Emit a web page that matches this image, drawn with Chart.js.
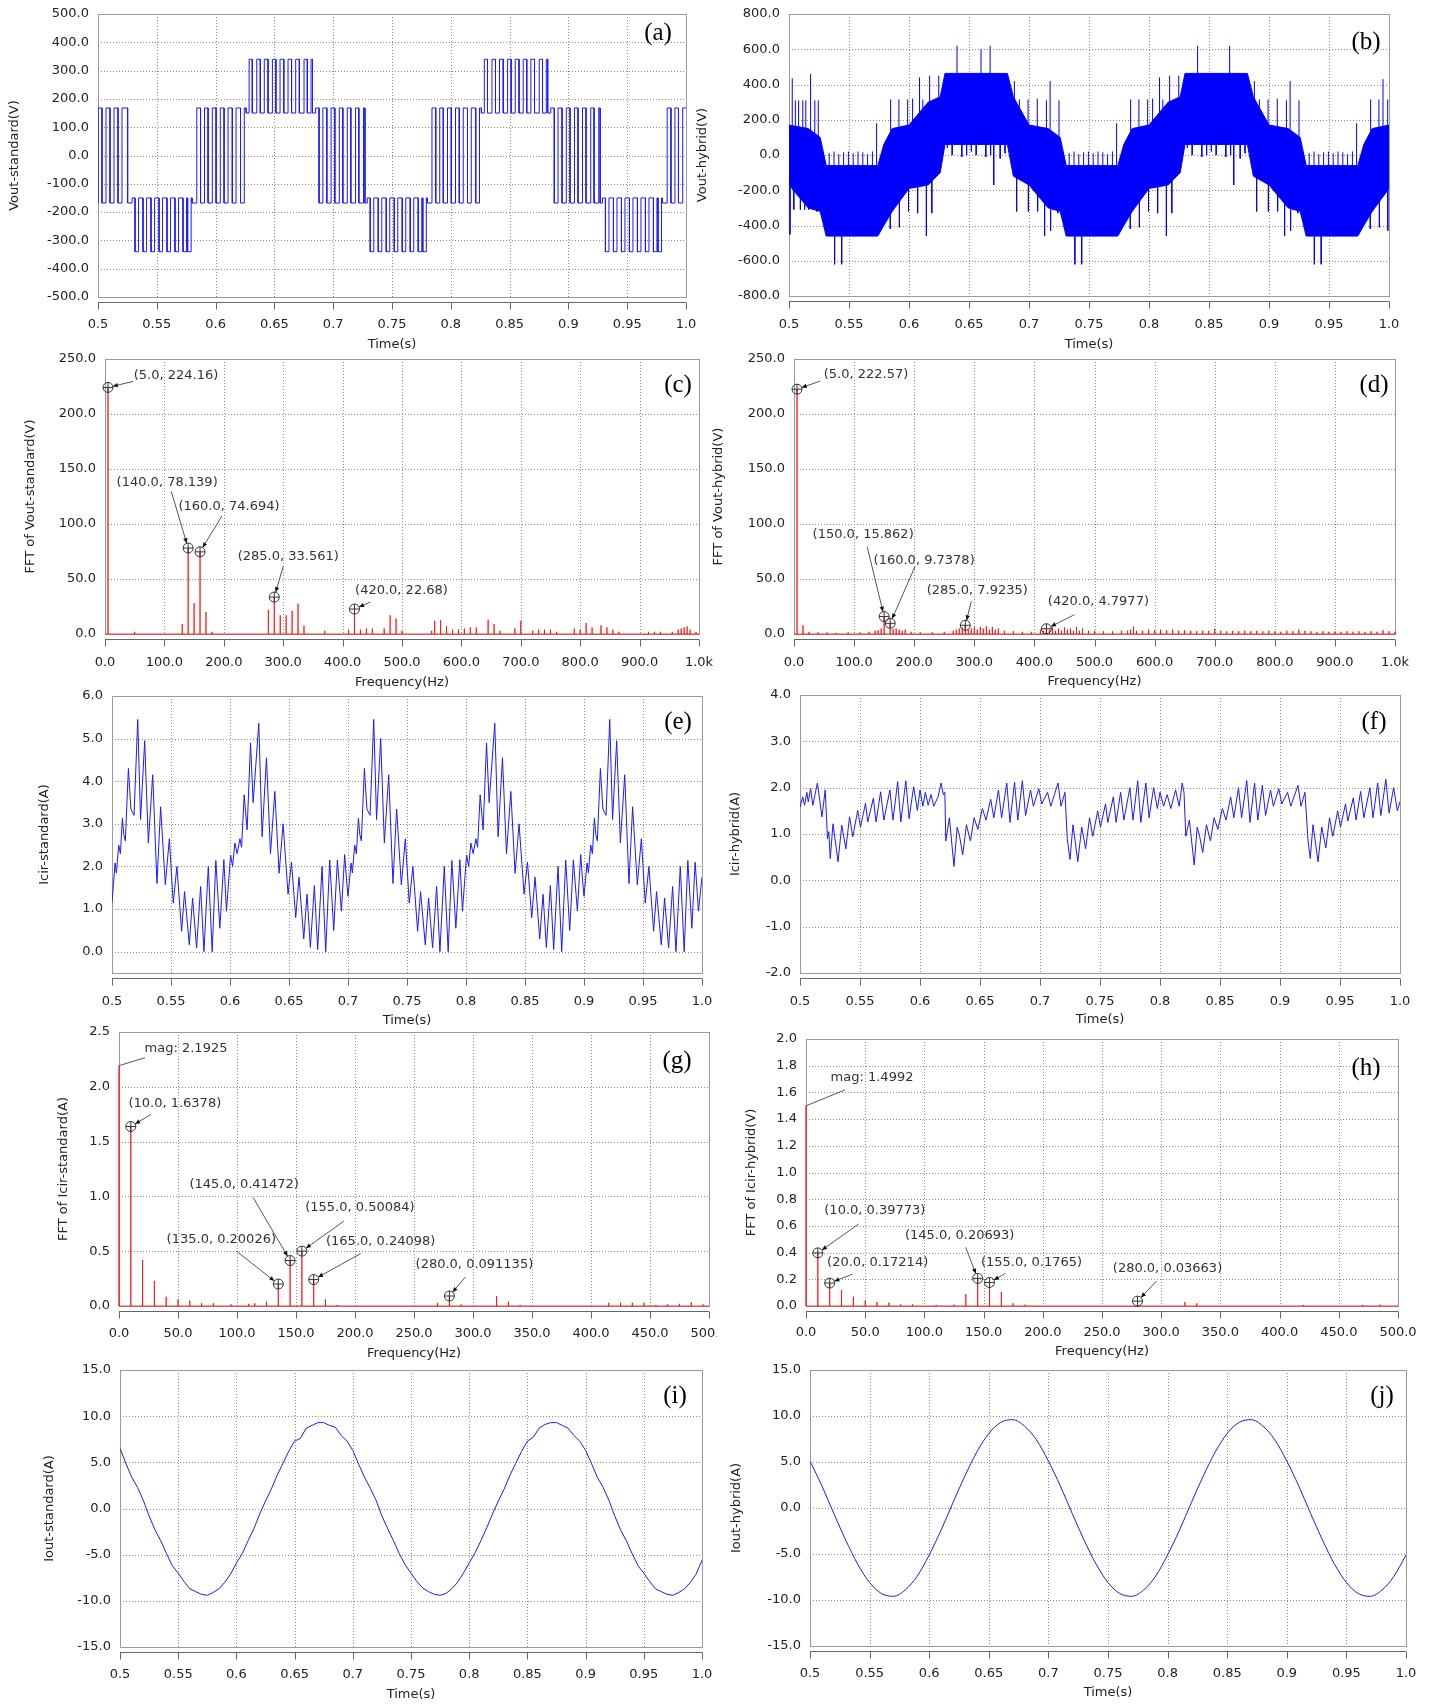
<!DOCTYPE html>
<html>
<head>
<meta charset="utf-8">
<title>Vout / Icir / Iout, standard vs hybrid</title>
<script src="https://cdn.jsdelivr.net/npm/chart.js@4.4.1/dist/chart.umd.min.js"></script>
<style>
  html, body { margin: 0; padding: 0; background: #ffffff; }
  body { position: relative; width: 1435px; height: 1705px; overflow: hidden; }
  canvas { position: absolute; }
</style>
</head>
<body>
<script>
// ---------------- data ----------------

// (a) Vout-standard: switching sections (start time, low/high level, edge times)
const aStart = [0.5000, 0.5290, 0.5800, 0.6260, 0.6850, 0.7290, 0.7800, 0.8260, 0.8850, 0.9290, 0.9800];
const aLow = [-168, -340, -168, 150, -168, -340, -168, 150, -168, -340, -168];
const aHigh = [168, -150, 168, 340, 168, -150, 168, 340, 168, -150, 168];
const aStartsHigh = [false, true, false, false, true, true, false, false, true, true, false];
const aEdges = [
  [0.5002, 0.5034, 0.5068, 0.5102, 0.5136, 0.5170, 0.5204, 0.5252],
  [0.5315, 0.5345, 0.5383, 0.5413, 0.5451, 0.5481, 0.5519, 0.5549, 0.5587, 0.5617, 0.5655, 0.5685, 0.5723, 0.5753, 0.5762, 0.5792],
  [0.5840, 0.5872, 0.5906, 0.5936, 0.5972, 0.6004, 0.6040, 0.6072, 0.6106, 0.6142, 0.6174, 0.6212, 0.6244],
  [0.6285, 0.6312, 0.6350, 0.6380, 0.6414, 0.6446, 0.6483, 0.6513, 0.6548, 0.6580, 0.6616, 0.6646, 0.6681, 0.6712, 0.6752, 0.6780, 0.6812, 0.6824],
  [0.6880, 0.6912, 0.6946, 0.6982, 0.7014, 0.7052, 0.7082, 0.7120, 0.7150, 0.7190, 0.7218, 0.7258, 0.7270],
  [0.7315, 0.7345, 0.7383, 0.7413, 0.7451, 0.7481, 0.7519, 0.7549, 0.7587, 0.7617, 0.7655, 0.7685, 0.7723, 0.7753, 0.7762, 0.7792],
  [0.7840, 0.7872, 0.7906, 0.7936, 0.7972, 0.8004, 0.8040, 0.8072, 0.8106, 0.8142, 0.8174, 0.8212, 0.8244],
  [0.8285, 0.8312, 0.8350, 0.8380, 0.8414, 0.8446, 0.8483, 0.8513, 0.8548, 0.8580, 0.8616, 0.8646, 0.8681, 0.8712, 0.8752, 0.8780, 0.8812, 0.8824],
  [0.8880, 0.8912, 0.8946, 0.8982, 0.9014, 0.9052, 0.9082, 0.9120, 0.9150, 0.9190, 0.9218, 0.9258, 0.9270],
  [0.9315, 0.9345, 0.9383, 0.9413, 0.9451, 0.9481, 0.9519, 0.9549, 0.9587, 0.9617, 0.9655, 0.9685, 0.9723, 0.9753, 0.9762, 0.9792],
  [0.9840, 0.9872, 0.9906, 0.9936, 0.9972]
];

// (b) Vout-hybrid: solid band (upper / lower edge) and single spikes [t, from, to]
const bT = [0.500, 0.516, 0.526, 0.531, 0.574, 0.579, 0.586, 0.600, 0.616, 0.626, 0.630, 0.682, 0.687, 0.700, 0.716, 0.726, 0.731, 0.774, 0.779, 0.786, 0.800, 0.816, 0.826, 0.830, 0.882, 0.887, 0.900, 0.916, 0.926, 0.931, 0.974, 0.979, 0.986, 1.000];
const bUp = [170, 150, 100, -60, -60, 60, 150, 170, 300, 330, 463, 463, 330, 170, 150, 100, -60, -60, 60, 150, 170, 300, 330, 463, 463, 330, 170, 150, 100, -60, -60, 60, 150, 170];
const bLo = [-170, -300, -320, -460, -460, -400, -320, -190, -170, -100, 60, 60, -120, -170, -300, -320, -460, -460, -400, -320, -190, -170, -100, 60, 60, -120, -170, -300, -320, -460, -460, -400, -320, -190];
const bSpikes = [
  [0.5008, -100, -450], [0.5027, 100, 435], [0.5040, -100, -310], [0.5053, 100, 310], [0.5080, 100, 310], [0.5095, -100, -310], [0.5115, 100, 310], [0.5130, -100, -310], [0.5140, 100, 310], [0.5165, -100, -310], [0.5180, 100, 460], [0.5196, -100, -310], [0.5215, 100, 310], [0.5230, -100, -320], [0.5244, 100, 310],
  [0.5335, -60, 10], [0.5375, -60, 20], [0.5380, -400, -620], [0.5415, -60, 5], [0.5439, -400, -620], [0.5455, -60, 15], [0.5495, -60, 20], [0.5535, -60, 10], [0.5575, -60, 20], [0.5615, -60, 15], [0.5655, -60, 5], [0.5695, -60, 20], [0.5730, -60, 180],
  [0.5750, -100, -410], [0.5844, -100, -420], [0.5847, 100, 315], [0.5916, 100, 315], [0.5920, -100, -410], [0.5989, 100, 315], [0.5996, -100, -320], [0.6030, 100, 320], [0.6072, -100, -330], [0.6088, 100, 440], [0.6115, 100, 315], [0.6145, -100, -460], [0.6172, 100, 450], [0.6190, -100, -330], [0.6210, 100, 315], [0.6248, 100, 450],
  [0.6320, 60, 40], [0.6360, 60, 0], [0.6400, 400, 620], [0.6440, 60, -10], [0.6480, 60, 0], [0.6520, 60, 20], [0.6560, 60, 0], [0.6600, 400, 600], [0.6640, 60, -10], [0.6676, 400, 620], [0.6680, 60, 0], [0.6706, 60, -170], [0.6760, 60, -20], [0.6800, 60, 10],
  [0.6878, 100, 420], [0.6897, -100, -320], [0.6920, 100, 315], [0.6992, 100, 315], [0.6995, -100, -320], [0.7069, 100, 320], [0.7072, -100, -320], [0.7130, -100, -460], [0.7145, 100, 310], [0.7176, 100, 420], [0.7180, -100, -430], [0.7240, -100, -330], [0.7250, 100, 310],
  [0.7335, -60, 10], [0.7375, -60, 20], [0.7382, -400, -620], [0.7415, -60, 5], [0.7439, -400, -620], [0.7455, -60, 15], [0.7495, -60, 20], [0.7535, -60, 10], [0.7575, -60, 20], [0.7615, -60, 15], [0.7655, -60, 5], [0.7695, -60, 20], [0.7730, -60, 180],
  [0.7750, -100, -410], [0.7844, -100, -420], [0.7847, 100, 315], [0.7916, 100, 315], [0.7920, -100, -410], [0.7989, 100, 315], [0.7996, -100, -320], [0.8030, 100, 320], [0.8072, -100, -330], [0.8088, 100, 440], [0.8115, 100, 315], [0.8145, -100, -460], [0.8172, 100, 450], [0.8190, -100, -330], [0.8210, 100, 315], [0.8248, 100, 450],
  [0.8320, 60, 40], [0.8360, 60, 0], [0.8405, 400, 620], [0.8440, 60, -10], [0.8480, 60, 0], [0.8520, 60, 20], [0.8560, 60, 0], [0.8640, 60, -10], [0.8672, 400, 620], [0.8680, 60, 0], [0.8706, 60, -170], [0.8760, 60, -20], [0.8800, 60, 10],
  [0.8878, 100, 420], [0.8897, -100, -320], [0.8920, 100, 315], [0.8992, 100, 315], [0.8995, -100, -320], [0.9069, 100, 320], [0.9072, -100, -320], [0.9130, -100, -460], [0.9145, 100, 310], [0.9176, 100, 420], [0.9180, -100, -430], [0.9240, -100, -330], [0.9250, 100, 310],
  [0.9335, -60, 10], [0.9375, -60, 20], [0.9378, -400, -620], [0.9415, -60, 5], [0.9435, -400, -620], [0.9455, -60, 15], [0.9495, -60, 20], [0.9535, -60, 10], [0.9575, -60, 20], [0.9615, -60, 15], [0.9655, -60, 5], [0.9695, -60, 20], [0.9730, -60, 180],
  [0.9750, -100, -410], [0.9844, -100, -420], [0.9847, 100, 315], [0.9916, 100, 315], [0.9920, -100, -410], [0.9950, 100, 430], [0.9989, 100, 315], [0.9990, -100, -430]
];

// (c) FFT of Vout-standard: [frequency Hz, magnitude V], other bins read as 0
const cSpec = [[5, 224.16], [50, 2], [130, 9], [140, 78.139], [150, 28], [160, 74.694], [170, 20], [180, 2],
  [275, 22], [285, 33.561], [295, 17], [305, 17], [315, 21], [325, 27.5], [335, 7.5],
  [370, 3], [410, 4], [420, 22.68], [430, 4], [440, 5], [450, 5], [470, 5], [480, 17], [490, 14], [500, 3],
  [550, 3], [555, 12], [565, 12.5], [575, 7], [585, 4], [595, 4], [605, 5], [615, 6], [625, 6],
  [645, 13], [655, 9], [665, 3], [690, 5], [700, 12], [720, 3], [730, 4], [740, 4], [750, 4], [760, 2],
  [790, 5], [800, 4], [810, 10], [820, 6], [835, 8], [845, 6], [855, 4], [865, 2],
  [915, 2], [925, 2], [935, 2], [955, 2], [965, 4], [970, 5], [975, 6], [980, 7], [985, 4], [995, 2]];
const cNotes = [[5, 224.16, '(5.0, 224.16)'], [140, 78.139, '(140.0, 78.139)'], [160, 74.694, '(160.0, 74.694)'], [285, 33.561, '(285.0, 33.561)'], [420, 22.68, '(420.0, 22.68)']];

// (d) FFT of Vout-hybrid
const dSpec = [[5, 222.57], [15, 8], [25, 2], [40, 1.5], [55, 1.5], [70, 1], [90, 1.5], [110, 1.5], [125, 2], [135, 3], [140, 3.5], [145, 5],
  [150, 15.862], [160, 9.7378], [165, 4.5], [170, 5], [175, 4], [180, 3], [185, 4], [195, 2], [210, 1.5], [230, 1.5], [250, 2],
  [265, 3], [270, 4], [275, 5], [280, 6], [285, 7.9235], [290, 4], [295, 5], [300, 6], [305, 4], [310, 6.5], [315, 5], [320, 7],
  [325, 4], [330, 6.5], [335, 4], [340, 5], [350, 3], [365, 2.5], [380, 2], [395, 2], [410, 4], [415, 3], [420, 4.7977], [425, 4],
  [430, 6], [435, 3], [440, 5], [445, 3], [450, 6], [455, 4], [460, 5], [465, 3], [470, 6.5], [475, 3], [480, 5], [490, 3], [500, 3],
  [515, 2.5], [530, 2.5], [545, 3], [555, 3], [560, 4], [565, 6.7], [570, 3], [580, 3], [590, 4], [600, 3.5], [610, 4], [620, 3.5],
  [630, 4], [640, 3], [650, 3.5], [660, 3], [670, 2.5], [680, 3], [690, 3], [700, 5], [710, 3], [720, 2.5], [730, 3], [740, 2.5],
  [750, 3], [760, 2.5], [770, 3], [780, 2.5], [790, 3], [800, 2.5], [810, 2], [820, 3], [830, 2.5], [840, 4], [850, 3], [860, 2.5],
  [870, 2], [880, 2.5], [890, 2], [900, 2.5], [910, 2], [920, 2.5], [930, 2], [940, 2.5], [950, 2], [960, 2.5], [970, 2], [980, 3.5], [990, 2.5], [1000, 2]];
const dNotes = [[5, 222.57, '(5.0, 222.57)'], [150, 15.862, '(150.0, 15.862)'], [160, 9.7378, '(160.0, 9.7378)'], [285, 7.9235, '(285.0, 7.9235)'], [420, 4.7977, '(420.0, 4.7977)']];

// (e) Icir-standard: ripple extrema [t, A]
const eWave = [
  [0.5000, 1.15], [0.5026, 2.08], [0.5037, 1.85], [0.5057, 2.50], [0.5071, 2.30], [0.5088, 3.13], [0.5100, 2.75], [0.5113, 2.60], [0.5139, 4.30], [0.5160, 3.35], [0.5187, 3.20], [0.5218, 5.45], [0.5242, 3.10], [0.5277, 4.95], [0.5308, 2.55], [0.5345, 4.15], [0.5381, 1.60], [0.5412, 3.40], [0.5452, 1.57], [0.5486, 2.65], [0.5519, 1.14], [0.5550, 2.00], [0.5590, 0.48], [0.5615, 1.41], [0.5655, 0.16], [0.5683, 1.26], [0.5717, 0.09], [0.5751, 1.53], [0.5779, 0.00], [0.5816, 2.00], [0.5849, 0.00], [0.5880, 2.14], [0.5914, 0.55], [0.5948, 2.16], [0.5970, 0.95], [0.6005, 2.27],
  [0.6022, 2.00], [0.6041, 2.55], [0.6061, 2.30], [0.6084, 2.65], [0.6098, 2.45], [0.6120, 3.68], [0.6145, 2.86], [0.6174, 4.90], [0.6196, 3.50], [0.6244, 5.36], [0.6272, 2.70], [0.6309, 4.55], [0.6343, 2.30], [0.6380, 3.76], [0.6416, 1.84], [0.6450, 3.00], [0.6492, 1.35], [0.6521, 2.10], [0.6557, 0.80], [0.6585, 1.75], [0.6625, 0.30], [0.6653, 1.35], [0.6681, 0.10], [0.6715, 1.55], [0.6743, 0.05], [0.6780, 2.00], [0.6811, 0.00], [0.6845, 2.15], [0.6879, 0.50], [0.6910, 2.15], [0.6944, 0.95], [0.6972, 2.28], [0.6990, 1.60],
  [0.7000, 1.30], [0.7026, 2.08], [0.7037, 1.85], [0.7057, 2.50], [0.7071, 2.30], [0.7088, 3.13], [0.7100, 2.75], [0.7113, 2.60], [0.7139, 4.30], [0.7160, 3.35], [0.7187, 3.20], [0.7218, 5.45], [0.7242, 3.10], [0.7277, 5.00], [0.7308, 2.55], [0.7345, 4.15], [0.7381, 1.60], [0.7412, 3.35], [0.7452, 1.57], [0.7486, 2.65], [0.7519, 1.14], [0.7550, 2.00], [0.7590, 0.48], [0.7615, 1.41], [0.7655, 0.16], [0.7683, 1.26], [0.7717, 0.09], [0.7751, 1.53], [0.7779, 0.00], [0.7816, 2.00], [0.7849, 0.00], [0.7880, 2.14], [0.7914, 0.55], [0.7948, 2.16], [0.7970, 0.95], [0.8005, 2.27],
  [0.8022, 2.00], [0.8041, 2.55], [0.8061, 2.30], [0.8084, 2.65], [0.8098, 2.45], [0.8120, 3.68], [0.8145, 2.86], [0.8174, 4.90], [0.8196, 3.50], [0.8244, 5.36], [0.8272, 2.70], [0.8309, 4.55], [0.8343, 2.30], [0.8380, 3.76], [0.8416, 1.84], [0.8450, 3.00], [0.8492, 1.35], [0.8521, 2.10], [0.8557, 0.80], [0.8585, 1.75], [0.8625, 0.30], [0.8653, 1.35], [0.8681, 0.10], [0.8715, 1.55], [0.8743, 0.05], [0.8780, 2.00], [0.8811, 0.00], [0.8845, 2.15], [0.8879, 0.50], [0.8910, 2.15], [0.8944, 0.95], [0.8972, 2.28], [0.8990, 1.60],
  [0.9000, 1.30], [0.9026, 2.08], [0.9037, 1.85], [0.9057, 2.50], [0.9071, 2.30], [0.9088, 3.13], [0.9100, 2.75], [0.9113, 2.60], [0.9139, 4.30], [0.9160, 3.35], [0.9187, 3.20], [0.9218, 5.45], [0.9242, 3.10], [0.9277, 4.95], [0.9308, 2.55], [0.9345, 4.15], [0.9381, 1.60], [0.9412, 3.40], [0.9452, 1.57], [0.9486, 2.65], [0.9519, 1.14], [0.9550, 2.00], [0.9590, 0.48], [0.9615, 1.41], [0.9655, 0.16], [0.9683, 1.26], [0.9717, 0.09], [0.9751, 1.53], [0.9779, 0.00], [0.9816, 2.00], [0.9849, 0.00], [0.9880, 2.14], [0.9914, 0.55], [0.9942, 2.10], [0.9970, 0.95], [1.0000, 1.75]
];

// (f) Icir-hybrid: ripple extrema [t, A]
const fWave = [
  [0.5000, 1.58], [0.5023, 1.80], [0.5038, 1.62], [0.5057, 1.90], [0.5069, 1.69], [0.5088, 1.98], [0.5107, 1.62], [0.5145, 2.10], [0.5183, 1.37], [0.5210, 1.95], [0.5229, 0.90], [0.5240, 1.05], [0.5252, 0.47], [0.5275, 1.22], [0.5317, 0.40], [0.5348, 1.19], [0.5382, 0.68], [0.5413, 1.37], [0.5440, 0.94], [0.5481, 1.51], [0.5504, 1.15], [0.5546, 1.66], [0.5565, 1.26], [0.5611, 1.77], [0.5634, 1.26], [0.5672, 1.91], [0.5699, 1.30], [0.5749, 1.95], [0.5775, 1.30], [0.5814, 2.13], [0.5840, 1.26], [0.5882, 2.15], [0.5909, 1.33], [0.5947, 2.02], [0.5978, 1.51], [0.6000, 1.95], [0.6024, 1.60], [0.6045, 1.90], [0.6068, 1.62], [0.6092, 1.85], [0.6115, 1.60], [0.6150, 1.80], [0.6176, 2.10], [0.6195, 1.85], [0.6207, 1.90],
  [0.6215, 0.85], [0.6245, 1.35], [0.6283, 0.30], [0.6310, 1.15], [0.6330, 0.95], [0.6356, 0.55], [0.6387, 1.20], [0.6420, 0.85], [0.6451, 1.35], [0.6482, 1.10], [0.6520, 1.55], [0.6550, 1.30], [0.6589, 1.75], [0.6615, 1.35], [0.6654, 1.95], [0.6680, 1.35], [0.6723, 2.10], [0.6750, 1.25], [0.6788, 2.12], [0.6815, 1.30], [0.6853, 2.15], [0.6880, 1.40], [0.6921, 1.95], [0.6945, 1.60], [0.6990, 1.98], [0.7015, 1.65], [0.7063, 1.90], [0.7090, 1.60], [0.7150, 2.10], [0.7175, 1.60], [0.7208, 1.90],
  [0.7227, 0.90], [0.7250, 0.45], [0.7275, 1.20], [0.7315, 0.40], [0.7348, 1.15], [0.7380, 0.68], [0.7413, 1.35], [0.7440, 0.95], [0.7481, 1.50], [0.7504, 1.15], [0.7546, 1.65], [0.7565, 1.25], [0.7611, 1.80], [0.7634, 1.25], [0.7672, 1.90], [0.7699, 1.30], [0.7749, 2.00], [0.7775, 1.30], [0.7814, 2.15], [0.7840, 1.25], [0.7882, 2.10], [0.7909, 1.35], [0.7947, 2.00], [0.7978, 1.55], [0.8000, 1.90], [0.8030, 1.60], [0.8060, 1.85], [0.8090, 1.55], [0.8130, 1.95], [0.8160, 1.60], [0.8185, 2.10], [0.8200, 1.90],
  [0.8215, 0.95], [0.8245, 1.30], [0.8285, 0.33], [0.8310, 1.15], [0.8330, 0.95], [0.8356, 0.60], [0.8387, 1.20], [0.8420, 0.85], [0.8451, 1.35], [0.8482, 1.10], [0.8520, 1.55], [0.8550, 1.30], [0.8589, 1.80], [0.8615, 1.35], [0.8654, 2.00], [0.8680, 1.35], [0.8723, 2.15], [0.8750, 1.25], [0.8788, 2.10], [0.8815, 1.30], [0.8853, 2.05], [0.8880, 1.40], [0.8921, 1.95], [0.8945, 1.60], [0.8990, 1.98], [0.9015, 1.65], [0.9063, 1.90], [0.9090, 1.60], [0.9150, 2.05], [0.9175, 1.60], [0.9208, 1.90],
  [0.9232, 0.90], [0.9252, 0.47], [0.9275, 1.20], [0.9317, 0.40], [0.9348, 1.15], [0.9382, 0.70], [0.9413, 1.35], [0.9440, 0.95], [0.9481, 1.50], [0.9504, 1.15], [0.9546, 1.65], [0.9565, 1.28], [0.9611, 1.78], [0.9634, 1.30], [0.9672, 1.92], [0.9699, 1.35], [0.9749, 2.00], [0.9775, 1.35], [0.9814, 2.10], [0.9840, 1.40], [0.9882, 2.18], [0.9909, 1.45], [0.9947, 2.00], [0.9978, 1.50], [1.0000, 1.70]
];

// (g) FFT of Icir-standard
const gSpec = [[0, 2.1925], [10, 1.6378], [20, 0.42], [30, 0.23], [40, 0.085], [50, 0.06], [60, 0.05], [70, 0.025], [80, 0.025], [95, 0.015],
  [110, 0.02], [115, 0.025], [125, 0.04], [135, 0.20026], [145, 0.41472], [155, 0.50084], [165, 0.24098], [175, 0.06], [185, 0.01],
  [270, 0.03], [280, 0.091135], [290, 0.015], [320, 0.09], [330, 0.04], [340, 0.01],
  [415, 0.03], [425, 0.03], [435, 0.03], [445, 0.03], [455, 0.01], [465, 0.015], [475, 0.02], [485, 0.035], [495, 0.015]];
const gNotes = [[0, 2.1925, 'mag: 2.1925'], [10, 1.6378, '(10.0, 1.6378)'], [135, 0.20026, '(135.0, 0.20026)'], [145, 0.41472, '(145.0, 0.41472)'], [155, 0.50084, '(155.0, 0.50084)'], [165, 0.24098, '(165.0, 0.24098)'], [280, 0.091135, '(280.0, 0.091135)']];

// (h) FFT of Icir-hybrid
const hSpec = [[0, 1.4992], [10, 0.39773], [20, 0.17214], [30, 0.12], [40, 0.07], [50, 0.04], [60, 0.03], [70, 0.025], [80, 0.012], [90, 0.012],
  [110, 0.008], [125, 0.01], [135, 0.09], [145, 0.20693], [155, 0.1765], [165, 0.105], [175, 0.02], [185, 0.01],
  [280, 0.03663], [320, 0.03], [330, 0.02], [420, 0.008], [470, 0.008], [485, 0.01]];
const hNotes = [[0, 1.4992, 'mag: 1.4992'], [10, 0.39773, '(10.0, 0.39773)'], [20, 0.17214, '(20.0, 0.17214)'], [145, 0.20693, '(145.0, 0.20693)'], [155, 0.1765, '(155.0, 0.1765)'], [280, 0.03663, '(280.0, 0.03663)']];

// (i) Iout-standard, one reading every 5 ms from 0.5 s
const iStep = 0.005;
const iWave = [6.5, 4.9, 3.4, 2.3, 0.9, -0.8, -2.3, -3.5, -4.9, -6.2, -7.0, -7.9, -8.7, -9.0, -9.3, -9.4, -9.1, -8.7, -8.0, -7.1,
  -5.9, -4.9, -3.5, -2.2, -0.6, 0.8, 2.1, 3.6, 4.9, 6.2, 7.3, 7.6, 8.7, 9.0, 9.3, 9.3, 9.0, 8.8, 7.9, 7.3,
  6.3, 4.8, 3.4, 2.2, 0.9, -0.8, -2.2, -3.5, -4.9, -6.1, -7.0, -7.9, -8.6, -9.0, -9.3, -9.4, -9.2, -8.7, -8.0, -7.0,
  -5.9, -4.8, -3.5, -2.1, -0.6, 0.8, 2.1, 3.6, 4.9, 6.2, 7.3, 7.7, 8.7, 9.1, 9.3, 9.3, 9.0, 8.7, 7.9, 7.3,
  6.3, 4.9, 3.4, 2.3, 0.9, -0.8, -2.3, -3.5, -4.9, -6.2, -7.0, -7.9, -8.7, -9.0, -9.3, -9.4, -9.1, -8.7, -8.0, -7.1, -5.6];

// (j) Iout-hybrid, one reading every 10 ms from 0.5 s
const jStep = 0.01;
const jWave = [5.1, 2.4, -0.6, -3.5, -6.1, -8.1, -9.3, -9.6, -8.9, -7.4, -5.1, -2.4, 0.6, 3.5, 6.1, 8.1, 9.3, 9.6, 8.9, 7.4,
  5.1, 2.4, -0.6, -3.5, -6.1, -8.1, -9.3, -9.6, -8.9, -7.4, -5.1, -2.4, 0.6, 3.5, 6.1, 8.1, 9.3, 9.6, 8.9, 7.4,
  5.1, 2.4, -0.6, -3.5, -6.1, -8.1, -9.3, -9.6, -8.9, -7.4, -5.1];

// ---------------- building series ----------------
function pulseWave() {
  const pts = [];
  let prev = null;
  aStart.forEach((t0, i) => {
    let hi = aStartsHigh[i];
    const lv = () => (hi ? aHigh[i] : aLow[i]);
    if (prev !== null) pts.push({x: t0, y: prev});
    pts.push({x: t0, y: lv()});
    aEdges[i].forEach(t => {
      pts.push({x: t, y: lv()});
      hi = !hi;
      pts.push({x: t, y: lv()});
    });
    prev = lv();
  });
  pts.push({x: 1.0, y: prev});
  return pts;
}

function segments(list) {
  const pts = [];
  list.forEach(([t, a, b]) => {
    pts.push({x: t, y: a}, {x: t, y: b}, {x: t, y: null});
  });
  return pts;
}

// stick spectrum: each read bin is a vertical line from the zero baseline
function spectrum(list, fMax) {
  const pts = [{x: 0, y: 0}];
  list.forEach(([f, m]) => {
    pts.push({x: f, y: 0}, {x: f, y: m}, {x: f, y: 0});
  });
  pts.push({x: fMax, y: 0});
  return pts;
}

const pairs = list => list.map(([t, v]) => ({x: t, y: v}));
const sampled = (vals, step) => vals.map((v, k) => ({x: 0.5 + k * step, y: v}));

// ---------------- drawing ----------------
const FONT = "'DejaVu Sans', 'Liberation Sans', sans-serif";
const FONT_SIZE = 13;
const LINE_H = FONT_SIZE * 1.2;
const BLUE = '#1a1aff';
const RED = 'rgba(255, 0, 0, 0.75)';
const frameCfg = new Map();

const timeLabel = v => (Math.abs(v - 1) < 1e-9 ? '1.0' : String(Math.round(v * 100) / 100));
const oneDec = v => v.toFixed(1);
const kLabel = v => (v >= 1000 ? '1.0k' : v.toFixed(1));

function strokeLine(ctx, x1, y1, x2, y2) {
  ctx.beginPath();
  ctx.moveTo(x1, y1);
  ctx.lineTo(x2, y2);
  ctx.stroke();
}

const framePlugin = {
  id: 'frame',
  beforeDatasetsDraw(chart) {
    const {ctx, chartArea: ca, scales: {x, y}} = chart;
    ctx.save();
    ctx.lineWidth = 1;
    ctx.strokeStyle = '#8a8a8a';
    ctx.setLineDash([1, 2]);
    ctx.beginPath();
    x.ticks.forEach(t => {
      const p = Math.round(x.getPixelForValue(t.value)) + 0.5;
      ctx.moveTo(p, ca.top);
      ctx.lineTo(p, ca.bottom);
    });
    y.ticks.forEach(t => {
      const p = Math.round(y.getPixelForValue(t.value)) + 0.5;
      ctx.moveTo(ca.left, p);
      ctx.lineTo(ca.right, p);
    });
    ctx.stroke();
    // plot box, under the traces
    ctx.setLineDash([]);
    ctx.strokeStyle = '#9a9a9a';
    ctx.strokeRect(Math.round(ca.left) + 0.5, Math.round(ca.top) + 0.5, Math.round(ca.right - ca.left), Math.round(ca.bottom - ca.top));
    ctx.restore();
  },
  afterDraw(chart) {
    const cfg = frameCfg.get(chart.canvas);
    const {ctx, chartArea: ca, scales: {x, y}} = chart;
    ctx.save();
    ctx.lineWidth = 1;
    // detached x axis with tick marks
    const y0 = Math.round(ca.bottom) + 5.5;
    ctx.strokeStyle = '#666';
    strokeLine(ctx, ca.left, y0, ca.right, y0);
    x.ticks.forEach(t => {
      const p = Math.round(x.getPixelForValue(t.value)) + 0.5;
      strokeLine(ctx, p, y0, p, y0 + 7);
    });
    // panel letter
    ctx.fillStyle = '#000';
    ctx.font = "25px 'Liberation Serif', 'Times New Roman', serif";
    ctx.textAlign = 'center';
    ctx.textBaseline = 'middle';
    ctx.fillText(cfg.letter, cfg.letterX, cfg.letterY);
    // point annotations
    ctx.font = FONT_SIZE + 'px ' + FONT;
    cfg.notes.forEach(n => {
      const px = x.getPixelForValue(n.x);
      const py = y.getPixelForValue(n.y);
      const sx = px + n.lead[0];
      const sy = py + n.lead[1];
      const r = n.circle ? 5 : 0;
      const dx = px - sx;
      const dy = py - sy;
      const len = Math.hypot(dx, dy) || 1;
      const ex = px - (dx / len) * r;
      const ey = py - (dy / len) * r;
      ctx.strokeStyle = '#555';
      strokeLine(ctx, sx, sy, ex, ey);
      if (n.circle) {
        ctx.strokeStyle = '#333';
        ctx.beginPath();
        ctx.arc(px, py, r, 0, Math.PI * 2);
        ctx.stroke();
        strokeLine(ctx, px - r, py, px + r, py);
        strokeLine(ctx, px, py - r, px, py + r);
        const ux = dx / len;
        const uy = dy / len;
        ctx.fillStyle = '#111';
        ctx.beginPath();
        ctx.moveTo(ex, ey);
        ctx.lineTo(ex - ux * 5 - uy * 2.2, ey - uy * 5 + ux * 2.2);
        ctx.lineTo(ex - ux * 5 + uy * 2.2, ey - uy * 5 - ux * 2.2);
        ctx.closePath();
        ctx.fill();
      }
      ctx.fillStyle = '#333';
      ctx.fillText(n.text, px + n.label[0], py + n.label[1]);
    });
    ctx.restore();
  }
};

function makeNotes(list, layout, circles) {
  return list.map(([x, y, text], i) => ({
    x, y, text,
    label: [layout[i][0], layout[i][1]],
    lead: [layout[i][2], layout[i][3]],
    circle: circles ? circles[i] : true
  }));
}

function makePanel(p) {
  const [cx, cy, cw, ch] = p.canvas;
  const [L, T, R, B] = p.plot;
  const cv = document.createElement('canvas');
  cv.width = cw;
  cv.height = ch;
  Object.assign(cv.style, {left: cx + 'px', top: cy + 'px', width: cw + 'px', height: ch + 'px'});
  document.body.appendChild(cv);

  const half = LINE_H / 2;
  const padLeft = p.yTitleX - cx - half;
  const yWidth = L - cx - padLeft;
  const xHeight = p.xTitleY + half - B;
  const font = {family: FONT, size: FONT_SIZE};
  frameCfg.set(cv, {letter: p.letter, letterX: p.letterAt[0] - cx, letterY: p.letterAt[1] - cy, notes: p.notes || []});

  return new Chart(cv, {
    type: 'line',
    data: {datasets: p.datasets},
    options: {
      responsive: false,
      animation: false,
      devicePixelRatio: 1,
      events: [],
      layout: {padding: {left: padLeft, top: T - cy, right: cx + cw - R, bottom: cy + ch - B - xHeight}},
      elements: {point: {radius: 0}, line: {borderWidth: 1, tension: 0}},
      plugins: {legend: {display: false}, tooltip: {enabled: false}},
      scales: {
        x: {
          type: 'linear', min: p.x.min, max: p.x.max,
          ticks: {stepSize: p.x.step, callback: p.x.fmt, autoSkip: false, maxRotation: 0, minRotation: 0,
            padding: p.xLabelY - B - half, font, color: '#222'},
          grid: {display: false, drawTicks: false},
          border: {display: false},
          title: {display: true, text: p.x.title, font, color: '#222', padding: 0},
          afterFit(s) { s.height = xHeight; s.paddingLeft = 0; s.paddingRight = 0; }
        },
        y: {
          type: 'linear', min: p.y.min, max: p.y.max,
          ticks: {stepSize: p.y.step, callback: p.y.fmt, autoSkip: false, includeBounds: false, padding: 9, font, color: '#222'},
          grid: {display: false, drawTicks: false},
          border: {display: false},
          title: {display: true, text: p.y.title, font, color: '#222', padding: 0},
          afterFit(s) { s.width = yWidth; s.paddingTop = 0; s.paddingBottom = 0; }
        }
      }
    },
    plugins: [framePlugin]
  });
}

const timeAxis = {min: 0.5, max: 1.0, step: 0.05, fmt: timeLabel, title: 'Time(s)'};
const freqAxis1k = {min: 0, max: 1000, step: 100, fmt: kLabel, title: 'Frequency(Hz)'};
const freqAxis500 = {min: 0, max: 500, step: 50, fmt: oneDec, title: 'Frequency(Hz)'};

const panels = [
  {letter: '(a)', letterAt: [658, 33], canvas: [0, 0, 717, 360], plot: [98, 14, 686, 297], yTitleX: 15, xLabelY: 325, xTitleY: 345,
    x: timeAxis, y: {min: -500, max: 500, step: 100, fmt: oneDec, title: 'Vout-standard(V)'},
    datasets: [{data: pulseWave(), borderColor: BLUE}]},
  {letter: '(b)', letterAt: [1366, 42], canvas: [690, 0, 745, 360], plot: [789, 14, 1389, 296], yTitleX: 703, xLabelY: 325, xTitleY: 345,
    x: timeAxis, y: {min: -800, max: 800, step: 200, fmt: oneDec, title: 'Vout-hybrid(V)'},
    datasets: [
      {data: pairs(bT.map((t, i) => [t, bUp[i]])), borderColor: '#0000ff', backgroundColor: '#0000ff', fill: '+1'},
      {data: pairs(bT.map((t, i) => [t, bLo[i]])), borderColor: '#0000ff', fill: false},
      {data: segments(bSpikes), borderColor: '#0000ff', spanGaps: false}
    ]},
  {letter: '(c)', letterAt: [678, 385], canvas: [0, 345, 717, 350], plot: [105, 359, 699, 634], yTitleX: 31, xLabelY: 663, xTitleY: 683,
    x: freqAxis1k, y: {min: 0, max: 250, step: 50, fmt: oneDec, title: 'FFT of Vout-standard(V)'},
    datasets: [{data: spectrum(cSpec, 1000), borderColor: RED, clip: 3}],
    notes: makeNotes(cNotes, [[68, -12, 25, -6], [-21, -65, -17, -57], [29, -45, 22, -36], [14, -40, 9, -31], [47, -18, 16, -7]])},
  {letter: '(d)', letterAt: [1374, 385], canvas: [690, 345, 745, 350], plot: [794, 359, 1395, 634], yTitleX: 719, xLabelY: 663, xTitleY: 682,
    x: freqAxis1k, y: {min: 0, max: 250, step: 50, fmt: oneDec, title: 'FFT of Vout-hybrid(V)'},
    datasets: [{data: spectrum(dSpec, 1000), borderColor: RED, clip: 3}],
    notes: makeNotes(dNotes, [[69, -15, 23, -8], [-21, -82, -17, -70], [34, -63, 25, -57], [12, -35, 6, -24], [52, -27, 28, -14]])},
  {letter: '(e)', letterAt: [678, 722], canvas: [0, 680, 717, 350], plot: [112, 696, 702, 973], yTitleX: 45, xLabelY: 1002, xTitleY: 1021,
    x: timeAxis, y: {min: -0.5, max: 6, step: 1, fmt: oneDec, title: 'Icir-standard(A)'},
    datasets: [{data: pairs(eWave), borderColor: BLUE}]},
  {letter: '(f)', letterAt: [1374, 722], canvas: [690, 680, 745, 350], plot: [800, 695, 1400, 973], yTitleX: 736, xLabelY: 1002, xTitleY: 1020,
    x: timeAxis, y: {min: -2, max: 4, step: 1, fmt: oneDec, title: 'Icir-hybrid(A)'},
    datasets: [{data: pairs(fWave), borderColor: BLUE}]},
  {letter: '(g)', letterAt: [677, 1061], canvas: [0, 1020, 717, 345], plot: [119, 1032, 709, 1306], yTitleX: 64, xLabelY: 1334, xTitleY: 1354,
    x: freqAxis500, y: {min: 0, max: 2.5, step: 0.5, fmt: oneDec, title: 'FFT of Icir-standard(A)'},
    datasets: [{data: spectrum(gSpec, 500), borderColor: RED, clip: 3}],
    notes: makeNotes(gNotes, [[67, -17, 26, -8], [44, -23, 20, -12], [-57, -44, -42, -33], [-46, -76, -37, -63], [58, -43, 42, -30], [67, -38, 47, -26], [25, -31, 16, -19]],
      [false, true, true, true, true, true, true])},
  {letter: '(h)', letterAt: [1366, 1068], canvas: [690, 1020, 745, 345], plot: [806, 1039, 1398, 1306], yTitleX: 752, xLabelY: 1333, xTitleY: 1352,
    x: freqAxis500, y: {min: 0, max: 2, step: 0.2, fmt: oneDec, title: 'FFT of Icir-hybrid(V)'},
    datasets: [{data: spectrum(hSpec, 500), borderColor: RED, clip: 3}],
    notes: makeNotes(hNotes, [[66, -28, 39, -16], [57, -42, 41, -29], [48, -20, 23, -9], [-18, -43, -12, -31], [42, -20, 16, -9], [30, -32, 19, -20]],
      [false, true, true, true, true, true])},
  {letter: '(i)', letterAt: [675, 1396], canvas: [0, 1358, 717, 347], plot: [120, 1370, 702, 1647], yTitleX: 50, xLabelY: 1675, xTitleY: 1695,
    x: timeAxis, y: {min: -15, max: 15, step: 5, fmt: oneDec, title: 'Iout-standard(A)'},
    datasets: [{data: sampled(iWave, iStep), borderColor: BLUE}]},
  {letter: '(j)', letterAt: [1382, 1396], canvas: [690, 1358, 745, 347], plot: [810, 1370, 1406, 1646], yTitleX: 737, xLabelY: 1674, xTitleY: 1693,
    x: timeAxis, y: {min: -15, max: 15, step: 5, fmt: oneDec, title: 'Iout-hybrid(A)'},
    datasets: [{data: sampled(jWave, jStep), borderColor: BLUE, cubicInterpolationMode: 'monotone'}]}
];

panels.forEach(makePanel);
</script>
</body>
</html>
